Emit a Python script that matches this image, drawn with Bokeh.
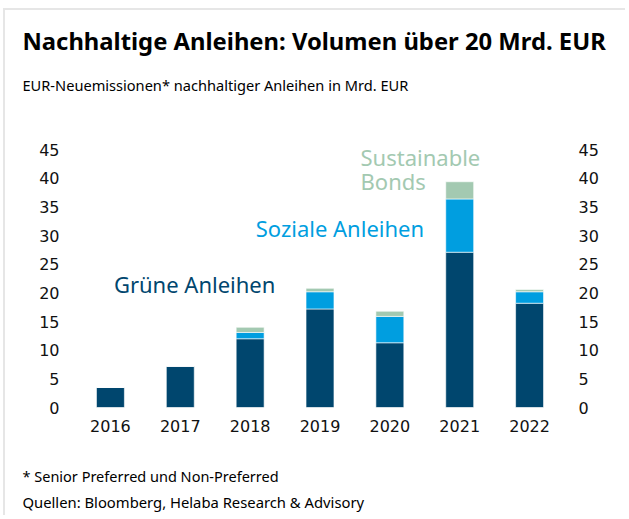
from bokeh.plotting import figure
from bokeh.models import ColumnDataSource, LinearAxis, FixedTicker, Range1d, Title
from bokeh.core.properties import value
from bokeh.embed import file_html
from bokeh.resources import INLINE

# ---- data ----
years = [2016, 2017, 2018, 2019, 2020, 2021, 2022]
gruen = [3.5, 7.2, 12.0, 17.2, 11.3, 27.1, 18.2]
sozial = [0.0, 0.0, 1.1, 3.0, 4.6, 9.3, 2.0]
sustainable = [0.0, 0.0, 0.9, 0.6, 0.9, 3.0, 0.4]
series = ["gruen", "sozial", "sustainable"]
series_labels = ["Grüne Anleihen", "Soziale Anleihen", "Sustainable\nBonds"]
y_ticks = [0, 5, 10, 15, 20, 25, 30, 35, 40, 45]

title_text = "Nachhaltige Anleihen: Volumen über 20 Mrd. EUR"
subtitle_text = "EUR-Neuemissionen* nachhaltiger Anleihen in Mrd. EUR"
footnote_text = "* Senior Preferred und Non-Preferred"
source_text = "Quellen: Bloomberg, Helaba Research & Advisory"

# ---- styles ----
colors = ["#00466E", "#009EE0", "#A3C9B1"]
FONT = "Noto Sans"
TICK_FONT = "DejaVu Sans"

src = ColumnDataSource(dict(year=years, gruen=gruen, sozial=sozial, sustainable=sustainable))

p = figure(width=622, height=507, output_backend="svg", toolbar_location=None,
           x_range=Range1d(2015.5, 2022.5), y_range=Range1d(0, 46.6),
           min_border_left=70, min_border_right=63, min_border_top=130, min_border_bottom=110)
p.styles = {"border-top": "2px solid #e6e6e6", "border-left": "2px solid #e6e6e6",
            "margin-left": "3px", "margin-top": "8px"}

p.vbar_stack(series, x="year", width=0.4, color=colors, source=src,
             line_color="white", line_width=0.6)

# series labels (in-chart legend), multi-line labels split into lines
lab_x = [2016.05, 2018.08, 2019.58]
lab_y = [21.6, 31.4, 43.8]
line_step = 4.2
for t, c, lx, ly in zip(series_labels, colors, lab_x, lab_y):
    for i, line in enumerate(t.split("\n")):
        p.text(x=[lx], y=[ly - i * line_step], text=[line], text_color=c,
               text_font=value(FONT), text_font_size="22px",
               text_align="left", text_baseline="middle")

# axes
p.xgrid.visible = False
p.ygrid.visible = False
p.outline_line_color = None

p.xaxis.ticker = FixedTicker(ticks=years)
p.xaxis.major_label_overrides = {y: str(y) for y in years}
p.yaxis.ticker = FixedTicker(ticks=y_ticks)
right = LinearAxis(ticker=FixedTicker(ticks=y_ticks))
p.add_layout(right, "right")

for ax in p.axis:
    ax.axis_line_color = None
    ax.major_tick_line_color = None
    ax.minor_tick_line_color = None
    ax.major_tick_out = 0
    ax.major_tick_in = 0
    ax.minor_tick_out = 0
    ax.major_label_text_font = TICK_FONT
    ax.major_label_text_font_size = "16px"
    ax.major_label_text_color = "#111111"
p.yaxis[0].major_label_standoff = 16
right.major_label_standoff = 14
p.xaxis.major_label_standoff = 12

# titles above (added closest-first) and notes below
sub = Title(text=subtitle_text, align="left", offset=-53, standoff=92,
            text_font=FONT, text_font_size="14.6px", text_font_style="normal", text_color="black")
main = Title(text=title_text, align="left", offset=-53, standoff=-61,
             text_font=FONT, text_font_size="23.8px", text_font_style="bold", text_color="black")
p.add_layout(sub, "above")
p.add_layout(main, "above")

foot = Title(text=footnote_text, align="left", offset=-53, standoff=59,
             text_font=FONT, text_font_size="14.5px", text_font_style="normal", text_color="black")
srcnote = Title(text=source_text, align="left", offset=-53, standoff=-47, vertical_align="top",
                text_font=FONT, text_font_size="14.8px", text_font_style="normal", text_color="black")
p.add_layout(foot, "below")
p.add_layout(srcnote, "below")

open("out.html", "w").write(file_html(p, INLINE))
